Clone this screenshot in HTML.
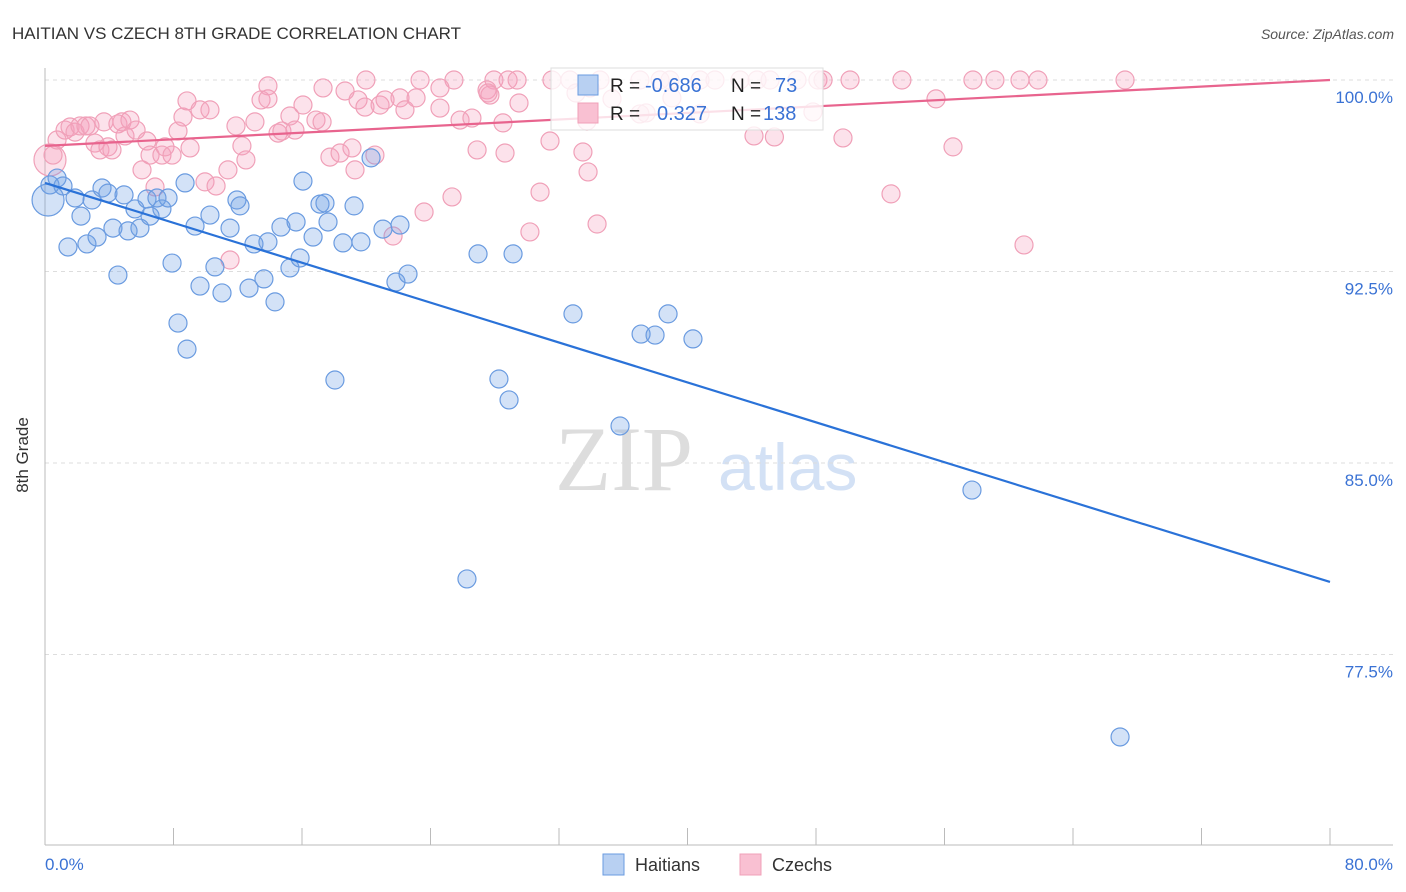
<!DOCTYPE html>
<html><head><meta charset="utf-8"><style>
body{margin:0;background:#fff;font-family:"Liberation Sans",sans-serif}
svg{display:block}
</style></head><body>
<svg width="1406" height="892" viewBox="0 0 1406 892">
<text x="12" y="39" font-size="17" fill="#333">HAITIAN VS CZECH 8TH GRADE CORRELATION CHART</text>
<text x="1394" y="39" font-size="14" fill="#555" font-style="italic" text-anchor="end">Source: ZipAtlas.com</text>
<text x="555" y="490" font-size="92" fill="#ddd" font-family="Liberation Serif,serif">ZIP</text>
<text x="718" y="490" font-size="66" fill="#d3e1f5">atlas</text>
<g id="grid"></g>
<g id="axes"></g>
<g id="pts"></g>
<g id="lines"></g>
<text x="28" y="455" font-size="17" fill="#333" transform="rotate(-90 28 455)" text-anchor="middle">8th Grade</text>
<g>
<rect x="551" y="68" width="272" height="62" fill="#fff" fill-opacity="0.8" stroke="#ddd"/>
<rect x="578" y="75" width="20" height="20" fill="#b8d0f2" stroke="#6a9be0"/>
<rect x="578" y="103" width="20" height="20" fill="#f9c0d2" stroke="#f0a0b8"/>
<text x="610" y="92" font-size="19" fill="#222">R = </text><text x="645" y="92" font-size="20" fill="#3a72d4">-0.686</text>
<text x="731" y="92" font-size="19" fill="#222">N = </text><text x="775" y="92" font-size="20" fill="#3a72d4">73</text>
<text x="610" y="120" font-size="19" fill="#222">R = </text><text x="657" y="120" font-size="20" fill="#3a72d4">0.327</text>
<text x="731" y="120" font-size="19" fill="#222">N = </text><text x="763" y="120" font-size="20" fill="#3a72d4">138</text>
</g>
<g>
<rect x="603" y="854" width="21" height="21" fill="#b8d0f2" stroke="#6a9be0"/>
<text x="635" y="871" font-size="18" fill="#333">Haitians</text>
<rect x="740" y="854" width="21" height="21" fill="#f9c0d2" stroke="#f0a0b8"/>
<text x="772" y="871" font-size="18" fill="#333">Czechs</text>
</g>
</svg>
<script>
const yTicks=[100,92.5,85,77.5];
const yTickLabels=["100.0%","92.5%","85.0%","77.5%"];
const xTickLabels=["0.0%","80.0%"];
const haitianX=[0.31,0.75,1.12,1.87,1.43,2.61,2.24,2.93,3.24,3.55,3.92,4.54,4.23,4.92,5.17,5.6,5.91,6.35,6.54,6.97,7.28,7.66,7.91,8.28,8.72,8.84,9.34,9.65,10.27,10.58,11.02,11.52,11.95,12.14,12.7,13.01,13.63,13.88,14.32,14.69,15.25,15.63,15.88,16.06,16.69,17.12,17.43,17.62,18.05,18.55,19.24,19.67,20.3,21.04,21.85,22.1,22.6,26.96,28.26,28.89,29.14,32.87,35.8,37.11,37.98,38.79,40.34,57.71,26.27,66.93,0.19];
const haitianY=[95.89,96.16,95.85,95.38,93.46,93.58,94.67,95.3,93.85,95.77,95.57,92.36,94.2,95.5,94.09,94.95,94.2,95.34,94.67,95.38,94.95,95.38,92.83,90.48,95.97,89.46,94.28,91.93,94.71,92.68,91.66,94.2,95.3,95.07,91.85,93.58,92.21,93.66,91.31,94.24,92.64,94.44,93.03,96.04,93.85,95.14,95.18,94.44,88.25,93.62,95.07,93.66,96.95,94.16,92.09,94.32,92.4,93.19,88.29,87.47,93.19,90.84,86.45,90.05,90.01,90.84,89.86,83.94,80.46,74.27,95.3];
const czechX=[13.88,17.31,19.98,23.35,25.46,27.95,28.83,29.39,31.56,32.68,34.55,37.04,38.29,38.91,40.78,41.71,43.27,44.33,45.14,46.82,48.12,48.44,50.12,53.35,57.77,59.14,60.7,61.82,67.24,24.59,27.52,27.7,33.06,33.93,0.31,0.5,0.75,1.25,1.56,1.87,2.18,2.55,2.8,3.11,3.42,3.67,3.92,4.17,4.54,4.98,4.79,5.29,5.67,6.04,6.35,6.54,6.85,7.28,7.47,7.91,8.28,8.59,8.84,9.03,9.65,9.96,10.27,10.65,11.39,11.52,11.89,12.26,12.51,13.07,13.45,13.88,14.51,14.75,15.25,15.56,16.06,16.87,17.25,17.74,18.37,18.68,19.11,19.3,19.49,19.92,20.54,20.86,21.17,21.67,22.1,22.41,23.1,23.6,24.59,25.34,25.84,26.58,26.9,27.58,28.51,28.64,29.51,30.19,30.82,31.44,33.49,33.81,34.37,33.74,35.3,37.04,40.78,44.14,45.41,47.81,49.68,52.67,55.47,56.53,60.95,39.03,37.42];
const czechY=[99.77,99.69,100,100,100,100,100,100,100,100,100,100,100,100,100,100,100,100,100,100,100,100,100,100,100,100,100,100,100,99.69,99.61,99.41,99.49,99.69,96.87,97.06,97.65,98.04,98.16,97.96,98.2,98.2,98.2,97.53,97.26,98.36,97.38,97.26,98.28,97.81,98.36,98.43,98.04,96.48,97.61,97.06,95.81,97.06,97.38,97.06,98.0,98.55,99.18,97.34,98.83,96.01,98.83,95.85,96.48,92.95,98.2,97.42,96.87,98.36,99.22,99.26,97.92,98.0,98.59,98.04,99.02,98.43,98.36,96.98,97.14,99.57,97.34,96.48,99.22,98.94,97.06,99.02,99.22,93.89,99.3,98.83,99.3,94.83,98.9,95.42,98.43,98.51,97.26,99.49,98.32,97.14,99.1,94.05,95.61,97.61,97.18,96.4,94.36,98.39,99.26,98.67,98.67,97.81,97.77,98.75,97.73,95.54,99.26,97.38,93.54,99.3,98.71];
const haitianTrend=[95.97,80.34];
const czechTrend=[97.42,100.0];
const NS="http://www.w3.org/2000/svg";
const X=v=>45+v/80*1285;
const Y=v=>80+(100-v)/7.5*191.5;
function mk(tag,attrs,parent){const e=document.createElementNS(NS,tag);for(const k in attrs)e.setAttribute(k,attrs[k]);document.getElementById(parent).appendChild(e);return e;}
yTicks.forEach((t,i)=>{
 const g=mk('line',{x1:45,x2:1393,y1:Y(t),y2:Y(t),stroke:'#ddd','stroke-dasharray':'4,4'},'grid');
 
 
 const l=mk('text',{x:1393,y:Y(t)+23,'font-size':17,fill:'#3a72d4','text-anchor':'end'},'grid');
 l.textContent=yTickLabels[i];
 
 
});
const ax=mk('line',{x1:45,x2:45,y1:68,y2:845,stroke:'#bbb'},'axes');


const bx=mk('line',{x1:45,x2:1393,y1:845,y2:845,stroke:'#bbb'},'axes');


for(let i=0;i<=10;i++){const t=mk('line',{x1:X(i*8),x2:X(i*8),y1:828,y2:845,stroke:'#bbb'},'axes');
 
 }
[[0,'start',45],[1,'end',1393]].forEach(([i,a,x])=>{const t=mk('text',{x:x,y:870,'font-size':17,fill:'#3a72d4','text-anchor':a},'axes');t.textContent=xTickLabels[i];
 
 });
function pts(xs,ys,fill,stroke,name){xs.forEach((x,i)=>{const big=i===xs.length-1&&name==='haitian-point'||(name==='czech-point'&&i===34);
 const c=mk('circle',{cx:X(x),cy:Y(ys[i]),r:big?16:9,fill:fill,stroke:stroke,'stroke-width':1.2},'pts');
 
 });}
pts(czechX,czechY,'rgba(246,160,190,0.3)','#f0a0b8','czech-point');
pts(haitianX,haitianY,'rgba(110,160,230,0.3)','#6a9be0','haitian-point');
const l1=mk('line',{x1:X(0),y1:Y(haitianTrend[0]),x2:X(80),y2:Y(haitianTrend[1]),stroke:'#2a72d8','stroke-width':2.2},'lines');


const l2=mk('line',{x1:X(0),y1:Y(czechTrend[0]),x2:X(80),y2:Y(czechTrend[1]),stroke:'#e8648e','stroke-width':2.2},'lines');


</script>
</body></html>
